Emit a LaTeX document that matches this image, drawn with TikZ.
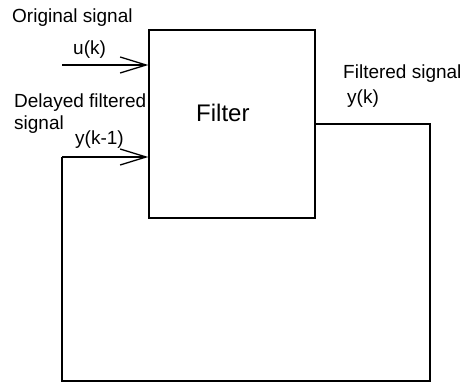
\documentclass[tikz,border=0pt]{standalone}
\usepackage{fontspec}
\setmainfont{Liberation Sans}
\usetikzlibrary{arrows.meta}
\tikzset{
  lbl/.style={anchor=base west, inner sep=0pt, font=\fontsize{19}{22}\selectfont},
  box/.style={draw, line width=1.3pt, minimum width=166pt, minimum height=188pt, inner sep=0pt},
  wire/.style={line width=1.3pt},
  sig/.style={wire, -{Straight Barb[length=26pt,width=16pt,line width=1.3pt]}}
}
\begin{document}
\begin{tikzpicture}[x=1pt,y=-1pt]
  \useasboundingbox (0,0) rectangle (462,382);
  % filter block
  \node[box] (filter) at (232,124) {};
  \node[lbl, font=\fontsize{24}{28}\selectfont] (filtername) at (196,121.5) {Filter};
  % labels
  \node[lbl] (origtxt) at (12,23) {Original signal};
  \node[lbl] (utxt) at (73,55) {u(k)};
  \node[lbl] (delaytxt) at (14,107.5) {Delayed filtered};
  \node[lbl] (delaytxt2) at (14,129) {signal};
  \node[lbl] (ydtxt) at (75,145) {y(k-1)};
  \node[lbl] (filttxt) at (343,79) {Filtered signal};
  \node[lbl] (ytxt) at (347,104) {y(k)};
  % connectors
  \coordinate (uin) at (62,65);
  \coordinate (yin) at (62,157);
  \coordinate (yout) at (430,124);
  \coordinate (loopbot) at (430,381);
  \draw[sig] (uin) -- (filter.west |- uin);
  \draw[wire] (filter.east |- yout) -- (yout) -- (loopbot) -- (yin |- loopbot) -- (yin);
  \draw[sig] (yin) -- (filter.west |- yin);
\end{tikzpicture}
\end{document}
